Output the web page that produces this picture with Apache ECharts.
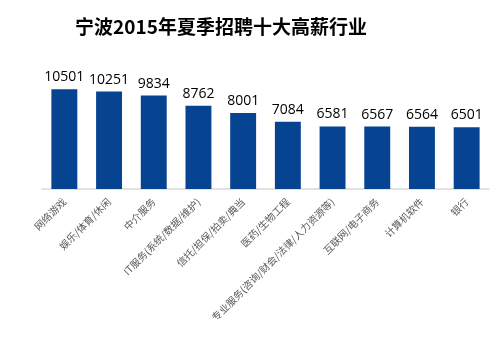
<!DOCTYPE html>
<html><head><meta charset="utf-8">
<script src="https://cdn.jsdelivr.net/npm/echarts@6/dist/echarts.min.js"></script>
<style>html,body{margin:0;padding:0;background:#fff}#c{width:500px;height:340px}</style>
</head><body><div id="c"></div>
<script>
const titleText = '宁波2015年夏季招聘十大高薪行业';
const categories = ['网络游戏','娱乐/体育/休闲','中介服务','IT服务(系统/数据/维护)','信托/担保/拍卖/典当','医药/生物工程','专业服务(咨询/财会/法律/人力资源等)','互联网/电子商务','计算机软件','银行'];
const values = [10501,10251,9834,8762,8001,7084,6581,6567,6564,6501];

const chart = echarts.init(document.getElementById('c'));
chart.setOption({
  animation:false,
  title:{text:titleText,left:216,top:12,textAlign:'center',
    textStyle:{fontFamily:'Noto Sans CJK SC',fontSize:19,fontWeight:'bold',color:'#000'}},
  grid:{left:42,right:11,top:75,bottom:151},
  xAxis:{type:'category',data:categories,
    axisLine:{lineStyle:{color:'#d9d9d9',width:1.5}},
    axisTick:{show:false},
    axisLabel:{rotate:45,interval:0,fontSize:10,color:'#595959',fontFamily:'Noto Sans CJK SC',margin:11}},
  yAxis:{type:'value',min:0,max:12000,show:false,splitLine:{show:false}},
  series:[{type:'bar',data:values,barWidth:'58%',
    itemStyle:{color:'#064491'},
    label:{show:true,position:'top',fontSize:14,color:'#000',fontFamily:'Open Sans',distance:5}}]
});
</script></body></html>
